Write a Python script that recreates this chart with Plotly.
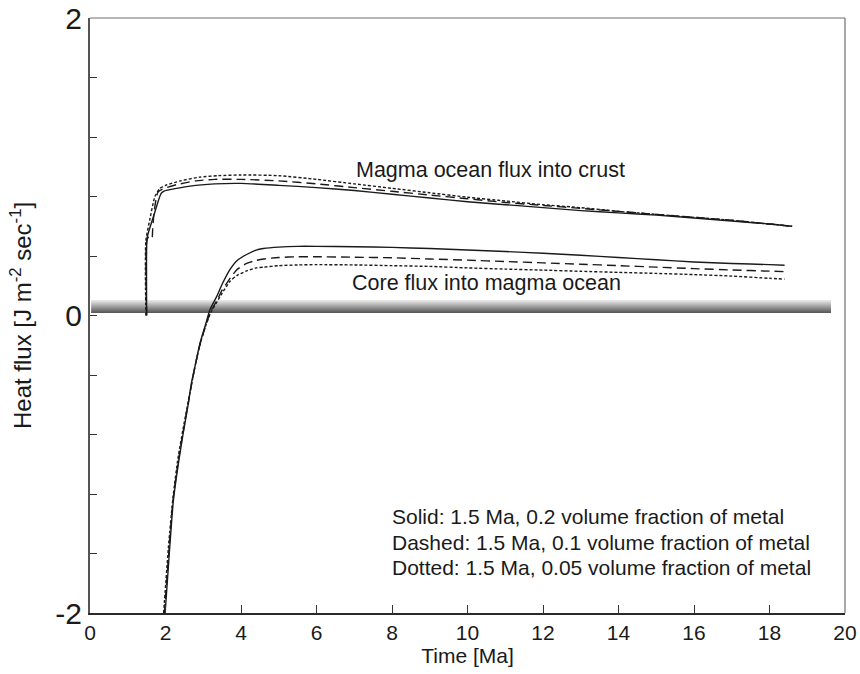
import plotly.graph_objects as go

# ---- data: magma ocean flux into crust (J m^-2 s^-1) vs time (Ma) ----
crust_solid_t = [1.50, 1.50, 1.52, 1.70, 1.88, 1.95, 2.3, 2.8, 3.3, 4.0, 5.0, 6.0, 7.0, 8.0,
                 9.0, 10.0, 11.0, 12.0, 13.0, 14.0, 15.0, 16.0, 17.0, 18.0, 18.6]
crust_solid_q = [0.00, 0.45, 0.53, 0.68, 0.82, 0.835, 0.855, 0.875, 0.885, 0.888, 0.875, 0.86,
                 0.84, 0.815, 0.79, 0.765, 0.745, 0.725, 0.705, 0.69, 0.675, 0.655, 0.635, 0.615, 0.60]

crust_dashed_t = [1.50, 1.50, 1.56, 1.64, 1.66, 1.70, 1.80, 1.92, 2.3, 2.8, 3.3, 4.0, 5.0, 6.0,
                  7.0, 8.0, 9.0, 10.0, 11.0, 12.0, 13.0, 14.0, 15.0, 16.0, 17.0, 18.0, 18.6]
crust_dashed_q = [0.00, 0.50, 0.53, 0.52, 0.58, 0.70, 0.83, 0.85, 0.88, 0.905, 0.915, 0.915,
                  0.905, 0.885, 0.86, 0.835, 0.81, 0.785, 0.76, 0.74, 0.72, 0.70, 0.68, 0.66,
                  0.64, 0.615, 0.60]

crust_dotted_t = [1.48, 1.48, 1.58, 1.72, 1.85, 2.0, 2.4, 2.9, 3.4, 4.0, 5.0, 6.0, 7.0, 8.0,
                  9.0, 10.0, 11.0, 12.0, 13.0, 14.0, 15.0, 16.0, 17.0, 18.0, 18.6]
crust_dotted_q = [0.00, 0.50, 0.64, 0.80, 0.855, 0.875, 0.905, 0.93, 0.94, 0.945, 0.94, 0.915,
                  0.885, 0.855, 0.825, 0.795, 0.77, 0.745, 0.725, 0.70, 0.68, 0.66, 0.64, 0.615, 0.60]

# ---- data: core flux into magma ocean ----
core_solid_t = [1.99, 2.1, 2.21, 2.35, 2.47, 2.6, 2.69, 2.8, 2.91, 3.05, 3.18, 3.36, 3.5, 3.71,
                3.9, 4.15, 4.4, 4.59, 5.0, 5.5, 6.0, 7.0, 8.0, 9.0, 10.0, 11.0, 12.0, 13.0,
                14.0, 15.0, 16.0, 17.0, 18.0, 18.4]
core_solid_q = [-2.0, -1.60, -1.24, -0.98, -0.79, -0.60, -0.45, -0.32, -0.19, -0.07, 0.04, 0.13,
                0.21, 0.31, 0.37, 0.41, 0.44, 0.45, 0.46, 0.465, 0.465, 0.462, 0.458, 0.45, 0.44,
                0.43, 0.418, 0.405, 0.39, 0.375, 0.36, 0.35, 0.342, 0.338]

core_dashed_t = [1.97, 2.1, 2.2, 2.35, 2.47, 2.6, 2.7, 2.8, 2.92, 3.05, 3.2, 3.36, 3.5, 3.71,
                 3.9, 4.15, 4.4, 4.6, 5.0, 5.5, 6.0, 7.0, 8.0, 9.0, 10.0, 11.0, 12.0, 13.0,
                 14.0, 15.0, 16.0, 17.0, 18.0, 18.4]
core_dashed_q = [-2.0, -1.55, -1.24, -0.96, -0.78, -0.59, -0.45, -0.32, -0.19, -0.08, 0.03, 0.10,
                 0.17, 0.25, 0.31, 0.35, 0.37, 0.38, 0.39, 0.395, 0.395, 0.392, 0.388, 0.38, 0.372,
                 0.363, 0.354, 0.345, 0.335, 0.325, 0.315, 0.306, 0.298, 0.295]

core_dotted_t = [1.95, 2.08, 2.2, 2.33, 2.46, 2.6, 2.7, 2.8, 2.92, 3.05, 3.2, 3.36, 3.5, 3.71,
                 3.9, 4.15, 4.4, 4.6, 5.0, 5.5, 6.0, 7.0, 8.0, 9.0, 10.0, 11.0, 12.0, 13.0,
                 14.0, 15.0, 16.0, 17.0, 18.0, 18.4]
core_dotted_q = [-2.0, -1.55, -1.22, -0.96, -0.77, -0.58, -0.45, -0.32, -0.19, -0.08, 0.02, 0.09,
                 0.15, 0.23, 0.27, 0.30, 0.32, 0.325, 0.335, 0.34, 0.342, 0.34, 0.335, 0.33, 0.32,
                 0.312, 0.305, 0.297, 0.29, 0.283, 0.275, 0.265, 0.25, 0.245]

# ---- axis ticks ----
x_ticks = [0, 2, 4, 6, 8, 10, 12, 14, 16, 18, 20]
y_ticks = [-2.0, -1.6, -1.2, -0.8, -0.4, 0.0, 0.4, 0.8, 1.2, 1.6, 2.0]
y_tick_text = ["-2", "", "", "", "", "0", "", "", "", "", "2"]

legend_lines = [
    "Solid: 1.5 Ma, 0.2 volume fraction of metal",
    "Dashed: 1.5 Ma, 0.1 volume fraction of metal",
    "Dotted: 1.5 Ma, 0.05 volume fraction of metal",
]

FONT = "Liberation Sans, Arial, sans-serif"
INK = "#1a1a1a"

fig = go.Figure()

series = [
    (crust_solid_t, crust_solid_q, "solid"),
    (crust_dashed_t, crust_dashed_q, "9px,5px"),
    (crust_dotted_t, crust_dotted_q, "3px,2px"),
    (core_solid_t, core_solid_q, "solid"),
    (core_dashed_t, core_dashed_q, "9px,5px"),
    (core_dotted_t, core_dotted_q, "3px,2px"),
]
for t, q, dash in series:
    fig.add_trace(go.Scatter(x=t, y=q, mode="lines", showlegend=False,
                             line=dict(color=INK, width=1.4, dash=dash, shape="spline",
                                       smoothing=0.6)))

# shaded zero band: light on top, dark underneath
band_colors = ["#e6e6e6", "#dcdcdc", "#d0d0d0", "#c4c4c4", "#b8b8b8", "#acacac", "#a0a0a0",
               "#949494", "#888888", "#7c7c7c", "#707070", "#646464", "#5a5a5a"]
band_top, band_bottom = 0.104, 0.017
step = (band_top - band_bottom) / len(band_colors)
for i, c in enumerate(band_colors):
    y1 = band_top - i * step
    fig.add_shape(type="rect", xref="x", yref="y", x0=0.03, x1=19.63,
                  y0=y1 - step * 1.05, y1=y1, line=dict(width=0), fillcolor=c, layer="below")

# thin frame on top and right
fig.add_shape(type="line", xref="x domain", yref="y domain", x0=0, x1=1, y0=1, y1=1,
              line=dict(color="#6e6e6e", width=1.2))
fig.add_shape(type="line", xref="x domain", yref="y domain", x0=1, x1=1, y0=0, y1=1,
              line=dict(color="#6e6e6e", width=1.2))

fig.add_annotation(x=10.6, y=0.978, text="Magma ocean flux into crust", showarrow=False,
                   font=dict(family=FONT, size=21.5, color=INK), xanchor="center",
                   yanchor="middle")
fig.add_annotation(x=10.5, y=0.218, text="Core flux into magma ocean", showarrow=False,
                   font=dict(family=FONT, size=21.5, color=INK), xanchor="center",
                   yanchor="middle")
for line_text, yv in zip(legend_lines, [-1.348, -1.523, -1.691]):
    fig.add_annotation(x=7.95, y=yv, text=line_text, showarrow=False,
                       font=dict(family=FONT, size=21, color=INK), xanchor="left",
                       yanchor="middle")

# vertical axis title placed explicitly
fig.add_annotation(xref="paper", yref="paper", x=-0.092, y=0.5, textangle=-90,
                   text="Heat flux [J m<sup>-2</sup> sec<sup>-1</sup>]", showarrow=False,
                   font=dict(family=FONT, size=24, color=INK), xanchor="center",
                   yanchor="middle")

fig.update_layout(
    width=860, height=674,
    margin=dict(l=90, r=15, t=18, b=61),
    paper_bgcolor="white", plot_bgcolor="white",
    xaxis=dict(range=[0, 20], tickvals=x_ticks, ticks="inside", ticklen=8, tickwidth=1.2,
               tickcolor="#333", showline=True, linecolor="#2a2a2a", linewidth=2.2,
               showgrid=False, zeroline=False, automargin=False,
               tickfont=dict(family=FONT, size=21, color=INK),
               title=dict(text="Time [Ma]", font=dict(family=FONT, size=21, color=INK),
                          standoff=0)),
    yaxis=dict(range=[-2, 2], tickvals=y_ticks, ticktext=y_tick_text, ticks="inside",
               ticklen=7, tickwidth=1.2, tickcolor="#333", showline=True,
               linecolor="#555", linewidth=2.2, showgrid=False, zeroline=False,
               automargin=False,
               tickfont=dict(family=FONT, size=30, color=INK)),
)

fig.write_html("out.html")
